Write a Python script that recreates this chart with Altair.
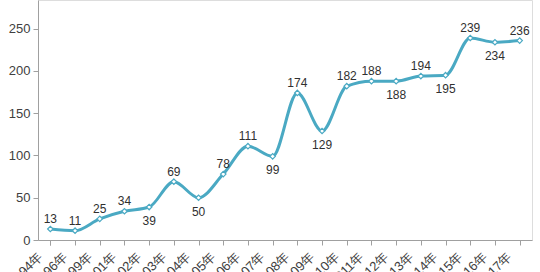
import altair as alt
import pandas as pd

years = ["1994年", "1996年", "1999年", "2001年", "2002年", "2003年", "2004年", "2005年",
         "2006年", "2007年", "2008年", "2009年", "2010年", "2011年", "2012年", "2013年",
         "2014年", "2015年", "2016年", "2017年"]
values = [13, 11, 25, 34, 39, 69, 50, 78, 111, 99, 174, 129, 182, 188, 188, 194, 195, 239, 234, 236]
below_label_years = ["2002年", "2004年", "2007年", "2009年", "2012年", "2014年", "2016年"]

df = pd.DataFrame({"year": years, "value": values})
df["below"] = df["year"].isin(below_label_years)

teal = "#4aa9c3"
W, H = 494, 240
bw = W / len(years)

x = alt.X("year:N", sort=years,
          scale=alt.Scale(paddingInner=0, paddingOuter=0),
          axis=alt.Axis(title=None, labelAngle=-45, labelAlign="right", labelBaseline="middle",
                        bandPosition=1, tickExtra=True, labelOffset=-bw / 2 + 2,
                        domainColor="#a0a0a0", tickColor="#a0a0a0", tickSize=5,
                        labelColor="#404040", labelFontSize=13, labelPadding=9,
                        labelFont="Liberation Sans"))
y = alt.Y("value:Q", scale=alt.Scale(domain=[0, 284], nice=False),
          axis=alt.Axis(title=None, values=[0, 50, 100, 150, 200, 250], grid=False,
                        domainColor="#a0a0a0", tickColor="#a0a0a0", tickSize=5,
                        labelColor="#404040", labelFontSize=13, labelPadding=3,
                        labelFont="Liberation Sans"))

base = alt.Chart(df).encode(x=x, y=y)

line = base.mark_line(color=teal, strokeWidth=3, interpolate="monotone")
pts = base.mark_point(shape="diamond", filled=True, fill="white", stroke=teal,
                      strokeWidth=1.2, size=30, opacity=1)
above = base.transform_filter("!datum.below").mark_text(
    dy=-10, fontSize=12, color="#303030", font="Liberation Sans").encode(text="value:Q")
below = base.transform_filter("datum.below").mark_text(
    dy=14, fontSize=12, color="#303030", font="Liberation Sans").encode(text="value:Q")

chart = alt.layer(line, pts, above, below).properties(
    width=W, height=H,
    autosize=alt.AutoSizeParams(type="none"),
    padding={"left": 38, "top": 0, "right": 8, "bottom": 32},
).configure_view(stroke=None).configure(background="white")

chart.save("out.html", embed_options={"renderer": "svg", "actions": False})
